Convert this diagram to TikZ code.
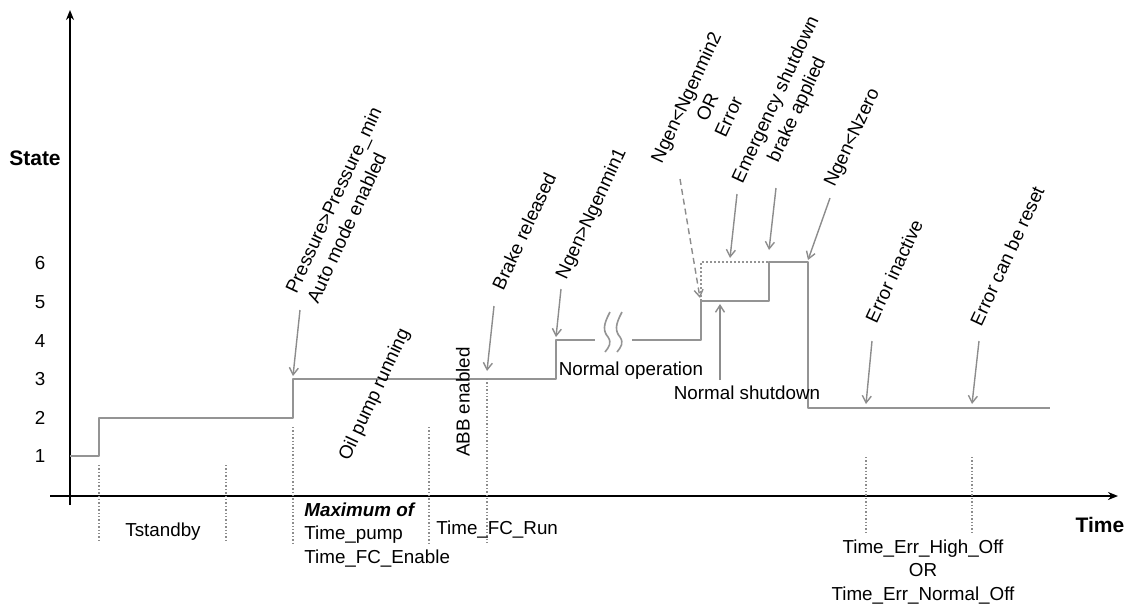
\documentclass[tikz,border=0pt]{standalone}
\usepackage{fontspec}
\setmainfont{Liberation Sans}
\usetikzlibrary{arrows.meta}
\tikzset{
  axis/.style={line width=1.1pt,-{Stealth[length=5pt,width=4pt]}},
  stateline/.style={draw=black!42,line width=1pt},
  pointer/.style={draw=black!45,line width=0.7pt,-{Straight Barb[length=3.5pt,width=4.5pt]}},
  marker/.style={draw=black!45,line width=0.7pt,densely dotted},
  tilted/.style={rotate=65,align=center,inner sep=0pt},
  axislabel/.style={font=\fontsize{10.5}{12}\selectfont\bfseries}
}
\begin{document}
\begin{tikzpicture}[x=0.5pt,y=-0.5pt,line join=round,font=\fontsize{9.4}{11.75}\selectfont]
			\useasboundingbox (0,0) rectangle (1130,606);
			% axes
			\draw[axis] (70,505)--(70,10);
			\draw[axis] (50,496)--(1118,496);
			\node[axislabel] (ystate) at (35,158) {State};
			\node[axislabel] (xtime) at (1100,525) {Time};
			\foreach \lev/\yy in {1/456,2/418,3/379,4/341,5/302,6/263}
				\node (lev\lev) at (40,\yy) {\lev};
			% state sequence
			\draw[stateline] (70,456)--(99,456)--(99,418)--(293,418)--(293,379)--(556,379)--(556,340)--(595,340);
			\draw[stateline] (632,340)--(701,340)--(701,301)--(769,301)--(769,262)--(808,262)--(808,408)--(1050,408);
			\draw[stateline,densely dotted] (701,301)--(701,262)--(769,262);
			% break marks
			\draw[stateline,line width=0.8pt] (610,312) .. controls (603,325) and (603,331) .. (608,337) .. controls (612,343) and (609,347) .. (605,352);
			\draw[stateline,line width=0.8pt] (622,312) .. controls (615,325) and (615,331) .. (620,337) .. controls (624,343) and (621,347) .. (617,352);
			% time markers
			\draw[marker] (99,465)--(99,543) (226,465)--(226,543) (293,427)--(293,543);
			\draw[marker] (429,427)--(429,543) (487,379)--(487,543);
			\draw[marker] (866,457)--(866,535) (972,457)--(972,535);
			% event labels
			\node[tilted,align=left] (press) at (344,205) {Pressure>Pressure\_min\\Auto mode enabled};
			\node[tilted] (oilpump) at (375,395) {Oil pump running};
			\node[rotate=90,inner sep=0pt] (abb) at (463,402) {ABB enabled};
			\node[tilted] (brake) at (524,231) {Brake released};
			\node[tilted] (nmin1) at (592,214) {Ngen>Ngenmin1};
			\node[tilted] (nmin2) at (707,107) {Ngen<Ngenmin2\\OR\\Error};
			\node[tilted] (emerg) at (787,105) {Emergency shutdown\\brake applied};
			\node[tilted] (nzero) at (853,138) {Ngen<Nzero};
			\node[tilted] (errin) at (894,271) {Error inactive};
			\node[tilted] (errres) at (1007,256) {Error can be reset};
			\node (normop) at (631,371) {Normal operation};
			\node (normsd) at (747,393) {Normal shutdown};
			% pointers
			\coordinate (p1a) at (300,310); \coordinate (p1b) at (293,376);
			\coordinate (p2a) at (494,306); \coordinate (p2b) at (487,371);
			\coordinate (p3a) at (561,289); \coordinate (p3b) at (556,337);
			\coordinate (p4a) at (680,179); \coordinate (p4b) at (700,298);
			\coordinate (p5a) at (737,194); \coordinate (p5b) at (730,258);
			\coordinate (p6a) at (776,188); \coordinate (p6b) at (769,250);
			\coordinate (p7a) at (830,198); \coordinate (p7b) at (808,260);
			\coordinate (p8a) at (720,380); \coordinate (p8b) at (720,304);
			\coordinate (p9a) at (872,341); \coordinate (p9b) at (866,404);
			\coordinate (p10a) at (979,341); \coordinate (p10b) at (972,404);
			\foreach \i in {1,2,3,5,6,7,8,9,10}
				\draw[pointer] (p\i a)--(p\i b);
			\draw[pointer,densely dashed] (p4a)--(p4b);
			% time labels
			\node (tstand) at (163,532) {Tstandby};
			\node[anchor=north west,align=left,inner sep=0pt] (tmax) at (304,502) {\textbf{\textit{Maximum of}}\\Time\_pump\\Time\_FC\_Enable};
			\node[anchor=west,inner sep=0pt] (tfcrun) at (436,530) {Time\_FC\_Run};
			\node[align=center] (terr) at (923,572) {Time\_Err\_High\_Off\\OR\\Time\_Err\_Normal\_Off};
		\end{tikzpicture}
\end{document}
